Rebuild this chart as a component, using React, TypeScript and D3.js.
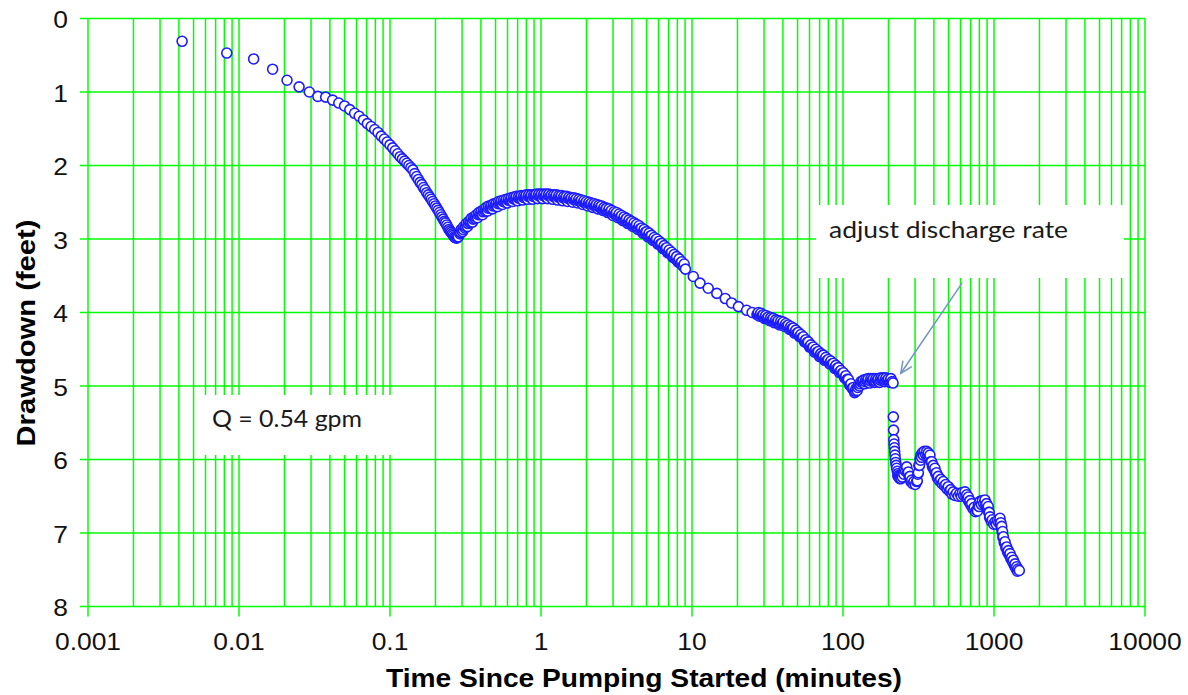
import { useEffect, useRef } from "react";
import * as d3 from "d3";

// time since pumping started (minutes), drawdown (feet)
const EARLY_POINTS: [number, number][] = [
  [0.0042, 0.31], [0.0083, 0.47], [0.0125, 0.55], [0.0167, 0.69], [0.0208, 0.84],
  [0.025, 0.93], [0.0292, 1.0], [0.0333, 1.06], [0.0375, 1.07], [0.0417, 1.11],
  [0.0458, 1.15], [0.05, 1.19], [0.0542, 1.24], [0.0583, 1.29], [0.0625, 1.33],
  [0.0667, 1.38], [0.0708, 1.43], [0.075, 1.47], [0.0792, 1.51], [0.0833, 1.55],
  [0.0875, 1.6], [0.0917, 1.64], [0.0958, 1.68],
];

const TROUGH_POINTS: [number, number][] = [
  [0.1, 1.72], [0.1042, 1.76], [0.1083, 1.8], [0.1125, 1.84], [0.1167, 1.88],
  [0.1208, 1.91], [0.125, 1.94], [0.1292, 1.97], [0.1333, 2.0], [0.1375, 2.03],
  [0.1417, 2.06], [0.1458, 2.11], [0.15, 2.15], [0.1542, 2.19], [0.1583, 2.23],
  [0.1625, 2.26], [0.1667, 2.3], [0.1708, 2.33], [0.175, 2.37], [0.1792, 2.4],
  [0.1833, 2.43], [0.1875, 2.46], [0.1917, 2.49], [0.1958, 2.52], [0.2, 2.55],
  [0.2042, 2.58], [0.2083, 2.61], [0.2125, 2.64], [0.2167, 2.67], [0.2208, 2.7],
  [0.225, 2.73], [0.2292, 2.76], [0.2333, 2.78], [0.2375, 2.81], [0.2417, 2.84],
  [0.2458, 2.87], [0.25, 2.89], [0.2542, 2.91], [0.2583, 2.93], [0.2625, 2.95],
  [0.2667, 2.97], [0.2708, 2.98], [0.275, 2.99], [0.2792, 2.98], [0.2833, 2.97],
];

const RECOVERY_POINTS: [number, number][] = [
  [0.291, 2.93], [0.302, 2.9], [0.314, 2.85], [0.326, 2.83], [0.339, 2.78], [0.352, 2.77],
  [0.366, 2.72], [0.38, 2.71], [0.395, 2.67], [0.41, 2.67], [0.426, 2.62], [0.442, 2.62],
  [0.46, 2.58], [0.477, 2.59], [0.496, 2.55], [0.515, 2.56], [0.535, 2.52], [0.556, 2.53],
  [0.578, 2.5], [0.6, 2.51], [0.624, 2.48], [0.648, 2.49], [0.673, 2.46], [0.699, 2.48],
  [0.727, 2.45], [0.755, 2.47], [0.784, 2.44], [0.815, 2.46], [0.847, 2.43], [0.88, 2.46],
  [0.914, 2.42], [0.95, 2.45], [0.987, 2.42], [1.025, 2.45], [1.065, 2.42], [1.107, 2.45],
  [1.15, 2.42], [1.195, 2.46], [1.241, 2.43], [1.29, 2.47], [1.34, 2.44], [1.392, 2.48],
  [1.446, 2.45], [1.503, 2.49], [1.561, 2.46], [1.622, 2.5], [1.685, 2.47], [1.751, 2.51],
  [1.819, 2.49], [1.89, 2.53], [1.964, 2.51], [2.04, 2.55], [2.12, 2.53], [2.202, 2.57],
  [2.288, 2.55], [2.377, 2.59], [2.47, 2.57], [2.566, 2.61], [2.666, 2.6], [2.77, 2.64],
  [2.878, 2.63], [2.99, 2.68], [3.106, 2.66], [3.227, 2.71], [3.353, 2.7], [3.483, 2.75],
  [3.619, 2.74], [3.76, 2.79], [3.906, 2.78], [4.058, 2.83], [4.216, 2.82], [4.38, 2.87],
  [4.551, 2.86], [4.728, 2.92], [4.912, 2.91], [5.103, 2.97], [5.302, 2.96], [5.508, 3.02],
  [5.723, 3.02], [5.945, 3.07], [6.177, 3.07], [6.417, 3.13], [6.667, 3.13], [6.927, 3.19],
  [7.196, 3.2], [7.477, 3.25], [7.768, 3.27], [8.07, 3.31], [8.384, 3.33], [8.711, 3.37],
  [9.05, 3.41],
];

// middle of the thick recovery band
const RECOVERY_MIDDLE: [number, number][] = [
  [0.2938, 2.91], [0.3049, 2.87], [0.317, 2.83], [0.3291, 2.79], [0.3423, 2.76], [0.3554, 2.73],
  [0.3695, 2.7], [0.3836, 2.67], [0.3988, 2.65], [0.4139, 2.63], [0.4301, 2.6], [0.4462, 2.58],
  [0.4644, 2.56], [0.4816, 2.55], [0.5008, 2.53], [0.5199, 2.52], [0.5401, 2.5], [0.5613, 2.49],
  [0.5835, 2.48], [0.6058, 2.47], [0.63, 2.46], [0.6542, 2.45], [0.6795, 2.44], [0.7057, 2.44],
  [0.734, 2.43], [0.7622, 2.43], [0.7915, 2.42], [0.8228, 2.42], [0.8551, 2.42], [0.8884, 2.42],
  [0.9228, 2.41], [0.9591, 2.41], [0.9965, 2.41], [1.035, 2.41], [1.075, 2.41], [1.118, 2.41],
  [1.161, 2.42], [1.206, 2.42], [1.253, 2.42], [1.302, 2.43], [1.353, 2.43], [1.405, 2.44],
  [1.46, 2.44], [1.517, 2.45], [1.576, 2.46], [1.638, 2.46], [1.701, 2.47], [1.768, 2.48],
  [1.836, 2.49], [1.908, 2.5], [1.983, 2.51], [2.06, 2.52], [2.14, 2.53], [2.223, 2.54],
  [2.31, 2.55], [2.4, 2.56], [2.494, 2.58], [2.591, 2.59], [2.692, 2.6], [2.797, 2.62],
  [2.906, 2.63], [3.019, 2.65], [3.136, 2.67], [3.258, 2.69], [3.385, 2.71], [3.516, 2.73],
  [3.654, 2.75], [3.796, 2.77], [3.943, 2.79], [4.097, 2.81], [4.256, 2.83], [4.422, 2.85],
  [4.595, 2.88], [4.773, 2.9], [4.959, 2.93], [5.152, 2.95], [5.353, 2.98], [5.561, 3.0],
  [5.778, 3.03], [6.002, 3.06], [6.236, 3.09], [6.479, 3.12], [6.731, 3.15], [6.993, 3.18],
  [7.265, 3.21], [7.549, 3.24], [7.843, 3.27], [8.147, 3.3], [8.464, 3.34], [8.795, 3.37],
];

// upper edge of the thick recovery band
const RECOVERY_UPPER: [number, number][] = [
  [0.2966, 2.87], [0.3078, 2.83], [0.32, 2.79], [0.3323, 2.76], [0.3455, 2.72], [0.3588, 2.7],
  [0.373, 2.67], [0.3873, 2.64], [0.4026, 2.62], [0.4179, 2.6], [0.4342, 2.57], [0.4505, 2.55],
  [0.4689, 2.54], [0.4862, 2.52], [0.5056, 2.51], [0.5249, 2.49], [0.5453, 2.48], [0.5667, 2.47],
  [0.5892, 2.46], [0.6116, 2.45], [0.636, 2.44], [0.6605, 2.43], [0.686, 2.42], [0.7125, 2.42],
  [0.741, 2.41], [0.7696, 2.41], [0.7991, 2.4], [0.8307, 2.4], [0.8633, 2.4], [0.897, 2.4],
  [0.9316, 2.39], [0.9683, 2.39], [1.006, 2.39], [1.045, 2.39], [1.086, 2.39], [1.128, 2.39],
  [1.172, 2.4], [1.218, 2.4], [1.265, 2.4], [1.315, 2.41], [1.366, 2.41], [1.419, 2.42],
  [1.474, 2.42], [1.532, 2.43], [1.591, 2.44], [1.653, 2.44], [1.718, 2.45], [1.785, 2.46],
  [1.854, 2.47], [1.926, 2.48], [2.002, 2.49], [2.079, 2.5], [2.161, 2.51], [2.244, 2.52],
  [2.332, 2.53], [2.423, 2.54], [2.518, 2.55], [2.616, 2.57], [2.717, 2.58], [2.823, 2.59],
  [2.934, 2.61], [3.048, 2.63], [3.166, 2.64], [3.289, 2.66], [3.418, 2.68], [3.55, 2.7],
  [3.689, 2.72], [3.833, 2.74], [3.981, 2.76], [4.136, 2.78], [4.297, 2.8], [4.465, 2.82],
  [4.639, 2.85], [4.819, 2.87], [5.007, 2.9], [5.201, 2.92], [5.404, 2.95], [5.614, 2.98],
  [5.833, 3.0], [6.06, 3.03], [6.296, 3.06], [6.541, 3.09], [6.796, 3.12], [7.061, 3.15],
  [7.335, 3.18], [7.621, 3.21], [7.918, 3.24], [8.226, 3.27], [8.546, 3.31], [8.879, 3.34],
];

const MID_POINTS: [number, number][] = [
  [10.2, 3.51], [11.3, 3.6], [12.8, 3.67], [14.6, 3.74], [16.6, 3.81],
  [18.3, 3.87], [20.3, 3.92], [23.0, 3.97], [25.0, 4.0],
];

const LATE_POINTS: [number, number][] = [
  [26.95, 4.03], [28.0, 4.05], [29.09, 4.05], [30.22, 4.08], [31.4, 4.08], [32.62, 4.11],
  [33.89, 4.1], [35.21, 4.14], [36.58, 4.13], [38.0, 4.17], [39.48, 4.15], [41.02, 4.19],
  [42.61, 4.18], [44.27, 4.23], [45.99, 4.22], [47.78, 4.28], [49.64, 4.28], [51.57, 4.33],
  [53.58, 4.34], [55.66, 4.4], [57.83, 4.41], [60.08, 4.47], [62.41, 4.48], [64.84, 4.54],
  [67.37, 4.54], [69.99, 4.6], [72.71, 4.59], [75.54, 4.65], [78.48, 4.65], [81.54, 4.7],
  [84.71, 4.7], [88.01, 4.76], [91.43, 4.76], [94.99, 4.82], [98.69, 4.83], [102.5, 4.89],
  [106.5, 4.91], [110.7, 4.99], [115.0, 5.03], [119.4, 5.09], [124.1, 5.06], [128.9, 5.0],
  [133.9, 4.95], [139.1, 4.97], [144.5, 4.93], [150.2, 4.96], [156.0, 4.92], [162.1, 4.95],
  [168.4, 4.92], [175.0, 4.95], [181.8, 4.91], [188.9, 4.94], [196.2, 4.92], [203.8, 4.95],
  [211.8, 4.94], [214.5, 4.96],
];

const LATE_MIDDLE: [number, number][] = [
  [27.21, 4.02], [28.27, 4.03], [29.37, 4.04], [30.51, 4.06], [31.7, 4.07], [32.93, 4.09],
  [34.22, 4.1], [35.55, 4.12], [36.93, 4.13], [38.36, 4.15], [39.86, 4.15], [41.41, 4.17],
  [43.02, 4.19], [44.69, 4.21], [46.43, 4.23], [48.24, 4.26], [50.12, 4.29], [52.07, 4.32],
  [54.09, 4.35], [56.19, 4.39], [58.39, 4.42], [60.66, 4.46], [63.01, 4.49], [65.46, 4.52],
  [68.02, 4.55], [70.66, 4.58], [73.41, 4.6], [76.27, 4.63], [79.23, 4.66], [82.32, 4.68],
  [85.52, 4.71], [88.85, 4.74], [92.31, 4.77], [95.9, 4.8], [99.64, 4.84], [103.5, 4.88],
  [107.5, 4.93], [111.8, 4.99], [116.1, 5.04], [120.5, 5.07], [125.3, 5.02], [130.1, 4.97],
  [135.2, 4.94], [140.4, 4.94], [145.9, 4.93], [151.6, 4.93], [157.5, 4.92], [163.7, 4.93],
  [170.0, 4.92], [176.7, 4.92], [183.5, 4.91], [190.7, 4.92], [198.1, 4.92], [205.8, 4.93],
];

const LATE_UPPER: [number, number][] = [
  [27.47, 4.0], [28.54, 4.01], [29.65, 4.03], [30.8, 4.04], [32.01, 4.06], [33.25, 4.07],
  [34.54, 4.08], [35.89, 4.1], [37.29, 4.11], [38.73, 4.12], [40.24, 4.13], [41.81, 4.15],
  [43.43, 4.17], [45.12, 4.19], [46.88, 4.21], [48.7, 4.24], [50.6, 4.27], [52.57, 4.3],
  [54.61, 4.33], [56.73, 4.37], [58.95, 4.4], [61.24, 4.44], [63.61, 4.47], [66.09, 4.5],
  [68.67, 4.53], [71.34, 4.56], [74.11, 4.58], [77.0, 4.61], [79.99, 4.64], [83.11, 4.66],
  [86.34, 4.69], [89.71, 4.72], [93.19, 4.75], [96.82, 4.79], [100.6, 4.82], [104.5, 4.86],
  [108.6, 4.91], [112.8, 4.97], [117.2, 5.02], [121.7, 5.04], [126.5, 4.99], [131.4, 4.94],
  [136.5, 4.92], [141.8, 4.91], [147.3, 4.9], [153.1, 4.9], [159.0, 4.9], [165.2, 4.9],
  [171.6, 4.9], [178.4, 4.89], [185.3, 4.89], [192.5, 4.89], [200.0, 4.9], [207.7, 4.9],
];

const ADJUSTED_POINTS: [number, number][] = [
  [215.4, 5.42], [216.2, 5.6], [217.0, 5.73], [217.8, 5.79], [218.8, 5.84], [219.8, 5.89],
  [220.9, 5.94], [222.0, 5.99], [223.5, 6.04], [225.0, 6.08], [226.7, 6.12], [229.0, 6.16],
  [232.3, 6.19], [236.0, 6.21], [240.0, 6.22], [244.7, 6.21], [250.0, 6.18], [256.0, 6.14],
  [264.3, 6.1], [271.0, 6.17], [278.0, 6.23], [285.4, 6.28], [295.0, 6.3], [307.7, 6.3],
  [313.0, 6.2], [318.0, 6.08], [323.7, 5.99], [328.0, 5.94], [335.0, 5.91], [345.0, 5.89],
  [358.0, 5.89], [367.0, 5.91], [376.6, 5.94], [386.4, 6.03], [396.0, 6.08], [406.0, 6.12],
  [416.0, 6.18], [427.6, 6.23], [444.0, 6.27], [461.4, 6.3], [479.0, 6.34], [497.8, 6.37],
  [517.0, 6.41], [537.0, 6.44], [565.0, 6.46], [595.4, 6.46], [618.0, 6.45], [642.5, 6.44],
  [660.0, 6.48], [676.0, 6.51], [693.0, 6.56], [711.8, 6.6], [740.0, 6.65], [768.0, 6.69],
  [787.0, 6.62], [807.7, 6.57], [838.0, 6.56], [871.0, 6.55], [893.0, 6.6], [916.0, 6.64],
  [930.0, 6.72], [941.0, 6.78], [975.0, 6.82], [1016, 6.85], [1055, 6.83], [1096, 6.8],
  [1110, 6.86], [1125, 6.91], [1140, 6.98], [1153, 7.05], [1183, 7.12], [1214, 7.19],
  [1245, 7.24], [1277, 7.28], [1310, 7.33], [1343, 7.37], [1378, 7.42], [1413, 7.46],
  [1442, 7.49], [1471, 7.51],
];

// lower edge of the band after the rate change
const ADJUSTED_LOWER: [number, number][] = [
  [230.6, 6.22], [234.1, 6.24], [238.0, 6.26], [242.3, 6.26], [247.3, 6.24], [253.0, 6.2],
  [260.1, 6.16], [267.6, 6.18], [274.5, 6.24], [281.7, 6.3], [290.1, 6.33], [301.3, 6.34],
  [310.3, 6.29], [315.5, 6.18], [320.8, 6.08], [325.8, 6.01], [331.5, 5.97], [340.0, 5.94],
  [351.5, 5.93], [362.5, 5.94], [371.8, 5.97], [381.5, 6.03], [391.2, 6.1], [401.0, 6.14],
  [411.0, 6.19], [421.8, 6.25], [435.8, 6.29], [452.7, 6.33], [470.2, 6.36], [488.4, 6.4],
  [507.4, 6.43], [527.0, 6.47], [551.0, 6.49], [580.2, 6.5], [606.7, 6.5], [630.2, 6.49],
  [651.2, 6.5], [668.0, 6.54], [684.5, 6.58], [702.4, 6.62], [725.9, 6.67], [754.0, 6.71],
  [777.5, 6.7], [797.3, 6.64], [822.8, 6.61], [854.5, 6.6], [882.0, 6.62], [904.5, 6.66],
  [923.0, 6.72], [935.5, 6.79], [958.0, 6.84], [995.5, 6.88], [1035, 6.88], [1075, 6.86],
  [1103, 6.87], [1117, 6.93], [1132, 6.99], [1146, 7.06], [1168, 7.13], [1198, 7.2],
  [1229, 7.26], [1261, 7.3], [1293, 7.35], [1326, 7.39], [1360, 7.44], [1395, 7.48],
  [1427, 7.52],
];

const X_TICKS = [0.001, 0.01, 0.1, 1, 10, 100, 1000, 10000];
const X_TICK_LABELS = ["0.001", "0.01", "0.1", "1", "10", "100", "1000", "10000"];
const Y_TICKS = [0, 1, 2, 3, 4, 5, 6, 7, 8];

const X_TITLE = "Time Since Pumping Started (minutes)";
const Y_TITLE = "Drawdown (feet)";
const RATE_NOTE = "adjust discharge rate";
const FLOW_NOTE = "Q = 0.54 gpm";
// arrow from note to the last point before the rate change, [time, drawdown]
const ARROW_FROM: [number, number] = [614, 3.6];
const ARROW_TO: [number, number] = [241, 4.83];

const W = 1188;
const H = 695;
const GREEN = "#00ff00";
const AXIS_FONT = "'Liberation Sans', Arial, sans-serif";
const NOTE_FONT = "Lato, 'Open Sans', sans-serif";

export default function App() {
  const svgRef = useRef<SVGSVGElement>(null);

  useEffect(() => {
    const svg = d3.select(svgRef.current);
    svg.selectAll("*").remove();

    const x = d3.scaleLog().domain([0.001, 10000]).range([88, 1145]);
    const y = d3.scaleLinear().domain([0, 8]).range([18.5, 606.5]);
    const [x0, x1] = x.range();
    const [y0, y1] = y.range();

    svg.append("rect").attr("width", W).attr("height", H).attr("fill", "#fff");

    // grid: every 1..9 multiple per decade, plus integer drawdowns
    const grid = svg.append("g").attr("stroke", GREEN).attr("stroke-width", 1.5);
    grid
      .selectAll("line.v")
      .data(x.ticks())
      .join("line")
      .attr("x1", (d) => x(d))
      .attr("x2", (d) => x(d))
      .attr("y1", y0)
      .attr("y2", (d) => (X_TICKS.includes(d) ? y1 + 10 : y1));
    grid
      .selectAll("line.h")
      .data(Y_TICKS)
      .join("line")
      .attr("x1", x0 - 8)
      .attr("x2", x1)
      .attr("y1", (d) => y(d))
      .attr("y2", (d) => y(d));

    // tick labels
    svg
      .append("g")
      .selectAll("text")
      .data(X_TICKS)
      .join("text")
      .attr("transform", (d) => `translate(${x(d)},650) scale(1.1,1)`)
      .attr("text-anchor", "middle")
      .attr("font-family", AXIS_FONT)
      .attr("font-size", 24)
      .attr("fill", "#111")
      .text((_d, i) => X_TICK_LABELS[i]);

    svg
      .append("g")
      .selectAll("text")
      .data(Y_TICKS)
      .join("text")
      .attr("transform", (d) => `translate(68,${y(d) + 9.5}) scale(1.1,1)`)
      .attr("text-anchor", "end")
      .attr("font-family", AXIS_FONT)
      .attr("font-size", 24)
      .attr("fill", "#111")
      .text((d) => String(d));

    // axis titles
    svg
      .append("text")
      .attr("x", 644)
      .attr("y", 687)
      .attr("text-anchor", "middle")
      .attr("font-family", AXIS_FONT)
      .attr("font-weight", "bold")
      .attr("font-size", 25)
      .attr("textLength", 516)
      .attr("lengthAdjust", "spacingAndGlyphs")
      .attr("fill", "#000")
      .text(X_TITLE);

    svg
      .append("text")
      .attr("transform", "translate(35,333) rotate(-90)")
      .attr("text-anchor", "middle")
      .attr("font-family", AXIS_FONT)
      .attr("font-weight", "bold")
      .attr("font-size", 25)
      .attr("textLength", 227)
      .attr("lengthAdjust", "spacingAndGlyphs")
      .attr("fill", "#000")
      .text(Y_TITLE);

    // drawdown points, plotted in time order like the logger wrote them
    const points = d3.sort(
      [
        ...EARLY_POINTS,
        ...TROUGH_POINTS,
        ...RECOVERY_POINTS,
        ...RECOVERY_MIDDLE,
        ...RECOVERY_UPPER,
        ...MID_POINTS,
        ...LATE_POINTS,
        ...LATE_MIDDLE,
        ...LATE_UPPER,
        ...ADJUSTED_POINTS,
        ...ADJUSTED_LOWER,
      ],
      (d) => d[0],
    );
    svg
      .append("g")
      .selectAll("circle")
      .data(points)
      .join("circle")
      .attr("cx", (d) => x(d[0]))
      .attr("cy", (d) => y(d[1]))
      .attr("r", 5)
      .attr("fill", "#fff")
      .attr("stroke", "#1c1cff")
      .attr("stroke-width", 1.6);

    // text boxes
    const note = (bx: number, by: number, bw: number, bh: number, tx: number, ty: number, len: number, label: string) => {
      const g = svg.append("g");
      g.append("rect").attr("x", bx).attr("y", by).attr("width", bw).attr("height", bh).attr("fill", "#fff");
      g.append("text")
        .attr("x", tx)
        .attr("y", ty)
        .attr("font-family", NOTE_FONT)
        .attr("font-size", 23)
        .attr("textLength", len)
        .attr("lengthAdjust", "spacingAndGlyphs")
        .attr("fill", "#1a1a1a")
        .text(label);
    };
    note(816, 205, 308, 73, 829, 238, 239, RATE_NOTE);
    note(198, 395, 222, 60, 212, 427, 150, FLOW_NOTE);

    // arrow
    const ax = x(ARROW_FROM[0]);
    const ay = y(ARROW_FROM[1]);
    const bx = x(ARROW_TO[0]);
    const by = y(ARROW_TO[1]);
    const ang = Math.atan2(by - ay, bx - ax);
    const head = 13;
    const spread = 0.42;
    const arrow = svg.append("g").attr("stroke", "#7396c4").attr("stroke-width", 1.5).attr("fill", "none");
    arrow.append("line").attr("x1", ax).attr("y1", ay).attr("x2", bx).attr("y2", by);
    arrow
      .append("path")
      .attr(
        "d",
        d3.line()([
          [bx - head * Math.cos(ang - spread), by - head * Math.sin(ang - spread)],
          [bx, by],
          [bx - head * Math.cos(ang + spread), by - head * Math.sin(ang + spread)],
        ]),
      );
  }, []);

  return (
    <svg
      ref={svgRef}
      width={W}
      height={H}
      style={{ position: "absolute", left: 0, top: 0, display: "block" }}
    />
  );
}
